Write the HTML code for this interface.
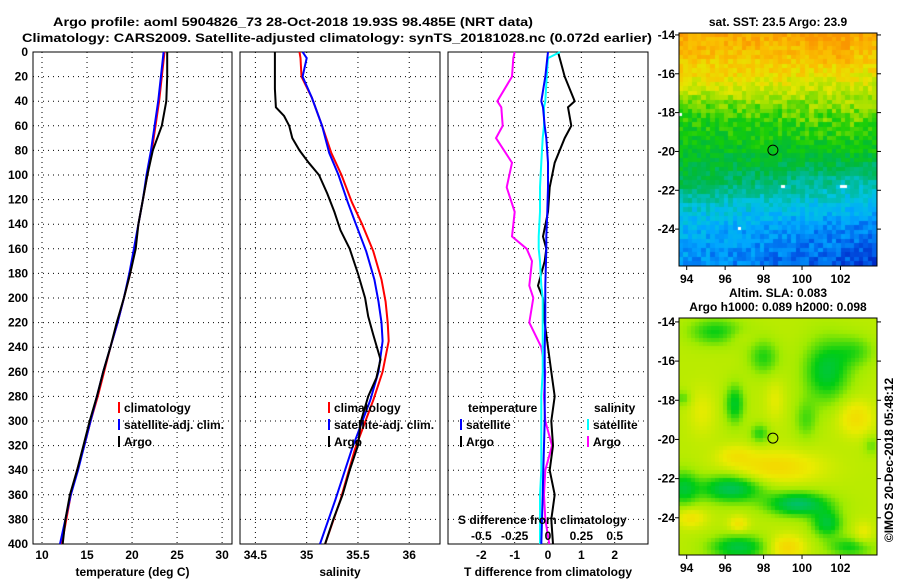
<!DOCTYPE html>
<html><head><meta charset="utf-8"><style>
html,body{margin:0;padding:0;background:#fff;}
#root{position:relative;width:900px;height:580px;overflow:hidden;font-family:"Liberation Sans",sans-serif;}
svg text{font-family:"Liberation Sans",sans-serif;font-size:12px;font-weight:bold;fill:#000;}
canvas{position:absolute;}
</style></head><body>
<div id="root">
<canvas id="sst" width="198" height="233" style="left:679px;top:33px"></canvas>
<canvas id="sla" width="198" height="237" style="left:679px;top:318px"></canvas>
<svg id="svg" width="900" height="580" style="position:absolute;left:0;top:0" xmlns="http://www.w3.org/2000/svg"></svg>
</div>
<script>
// ---------- data ----------
const depthTicks=[0,20,40,60,80,100,120,140,160,180,200,220,240,260,280,300,320,340,360,380,400];
const tempTicks=[10,15,20,25,30];
const salTicks=[34.5,35,35.5,36];
const tdiffTicks=[-2,-1,0,1,2];
const sdiffTicks=[-0.5,-0.25,0,0.25,0.5];
const sdiffTickLabels=["-0.5","-0.25","0","0.25","0.5"];
const latTicks=[-14,-16,-18,-20,-22,-24];
const lonTicks=[94,96,98,100,102];

const tDepth=[0,20,40,60,80,100,120,140,160,180,200,220,240,260,280,300,320,340,360,380,400];
const tClim=[23.6,23.3,23.0,22.6,22.2,21.7,21.2,20.7,20.3,19.8,19.1,18.4,17.6,16.9,16.2,15.4,14.7,13.9,13.2,12.7,12.2];
const tSat=[23.5,23.2,22.9,22.5,22.1,21.6,21.2,20.7,20.2,19.7,19.1,18.4,17.6,16.8,16.1,15.4,14.7,14.0,13.2,12.6,12.0];
const tArgo=[23.9,23.9,23.8,23.3,22.3,21.7,21.2,20.7,20.4,19.8,19.1,18.3,17.6,16.8,16.1,15.3,14.6,13.9,13.1,12.6,12.3];

const sDepth=[0,5,20,37,60,82,100,122,140,162,185,203,220,235,260,283,323,364,400];
const sClim=[34.93,34.94,34.95,35.05,35.15,35.24,35.34,35.44,35.54,35.65,35.73,35.77,35.79,35.8,35.74,35.65,35.47,35.33,35.18];
const sSat=[34.96,35.0,34.96,35.05,35.15,35.22,35.31,35.4,35.48,35.58,35.66,35.7,35.73,35.74,35.7,35.62,35.44,35.28,35.13];
const argoDepth=[0,10,30,45,52,60,70,80,90,100,115,130,145,160,180,200,215,230,250,265,280,300,320,340,360,380,400];
const sArgo=[34.69,34.69,34.69,34.7,34.78,34.83,34.86,34.93,35.02,35.12,35.2,35.27,35.33,35.42,35.5,35.57,35.6,35.65,35.72,35.68,35.6,35.53,35.5,35.42,35.35,35.26,35.18];

const dDepth=[0,5,20,40,45,60,70,90,110,130,150,160,170,190,200,220,240,260,280,300,320,340,360,380,400];
const tdArgo=[0.3,0.35,0.5,0.8,0.6,0.7,0.5,0.2,0.05,0.0,-0.15,-0.05,-0.1,-0.3,-0.15,-0.1,0.0,0.1,0.2,0.1,0.15,0.05,0.2,0.1,0.15];
const tdSat=[0,-0.02,-0.08,-0.2,-0.15,-0.1,-0.05,0.0,0.0,-0.02,-0.05,-0.05,-0.06,-0.08,-0.08,-0.08,-0.1,-0.1,-0.1,-0.1,-0.12,-0.14,-0.16,-0.18,-0.2];
const sdArgo=[-0.25,-0.26,-0.27,-0.38,-0.35,-0.34,-0.39,-0.27,-0.31,-0.25,-0.27,-0.16,-0.12,-0.14,-0.11,-0.14,-0.05,-0.02,-0.03,-0.02,0.03,-0.02,-0.03,-0.02,0.01];
const sdSat=[0.09,0.0,-0.01,-0.02,-0.03,-0.03,-0.04,-0.05,-0.06,-0.06,-0.07,-0.07,-0.06,-0.05,-0.04,-0.04,-0.04,-0.04,-0.05,-0.05,-0.05,-0.05,-0.06,-0.06,-0.06];

const argoLon=[98.485];
const argoLat=[-19.93];

// ---------- helpers ----------
const svg=document.getElementById('svg');
const NS='http://www.w3.org/2000/svg';
function mk(tag,attrs,parent){const e=document.createElementNS(NS,tag);for(const k in attrs)e.setAttribute(k,attrs[k]);(parent||svg).appendChild(e);return e;}
function txt(x,y,s,anchor,extra){const t=mk('text',Object.assign({x:x,y:y,'text-anchor':anchor||'start'},extra||{}));t.textContent=s;return t;}
const TOP=52,BOT=544;
const yD=d=>TOP+(d/400)*(BOT-TOP);

function panel(name,x0,x1,xmin,xmax,ticks,labels,title){
  const g=mk('g',{});
  
  
  const xs=v=>x0+(v-xmin)/(xmax-xmin)*(x1-x0);
  ticks.forEach((v,i)=>{
    const x=xs(v);
    const l=mk('line',{x1:x,x2:x,y1:TOP,y2:BOT,stroke:'#000','stroke-dasharray':'1,4','stroke-width':1},g);
    
    
    const t=txt(x,559,labels?labels[i]:String(v),'middle');
    
    
  });
  depthTicks.forEach(d=>{
    if(d===0||d===400)return;
    const l=mk('line',{x1:x0,x2:x1,y1:yD(d),y2:yD(d),stroke:'#000','stroke-dasharray':'1,4','stroke-width':1},g);
    
    
  });
  const r=mk('rect',{x:x0,y:TOP,width:x1-x0,height:BOT-TOP,fill:'none',stroke:'#000','stroke-width':1},g);
  
  
  const tt=txt((x0+x1)/2,576,title,'middle');
  
  
  return xs;
}
function line(xs,vals,depths,color,name){
  const pts=vals.map((v,i)=>xs(v).toFixed(1)+','+yD(depths[i]).toFixed(1)).join(' ');
  const p=mk('polyline',{points:pts,fill:'none',stroke:color,'stroke-width':2});
  
  
}
function legend(x,y,color,label,name){
  const l=mk('line',{x1:x,x2:x,y1:y-10,y2:y+1,stroke:color,'stroke-width':2});
  
  
  const t=txt(x+5,y,label,'start',{'font-size':'11.5px'});
  
  
}

// titles
let t1=txt(53,26,'Argo profile: aoml 5904826_73 28-Oct-2018 19.93S 98.485E (NRT data)','start',{textLength:480,lengthAdjust:'spacingAndGlyphs','font-size':'13px'});


let t2=txt(22,42,'Climatology: CARS2009. Satellite-adjusted climatology: synTS_20181028.nc (0.072d earlier)','start',{textLength:630,lengthAdjust:'spacingAndGlyphs','font-size':'13px'});



// depth labels
depthTicks.forEach(d=>{
  const t=txt(28,yD(d)+4,String(d),'end');
  
  
});

// panel 1 temperature
const xT=panel('temperature-panel',33,232,9.0,31.1,tempTicks,null,'temperature (deg C)');
line(xT,tClim,tDepth,'#f00','temp-climatology-line');
line(xT,tSat,tDepth,'#00f','temp-satellite-line');
line(xT,tArgo,tDepth,'#000','temp-argo-line');
legend(119,412,'#f00','climatology','legend-climatology');
legend(119,429,'#00f','satellite-adj. clim.','legend-satellite');
legend(119,446,'#000','Argo','legend-argo');

// panel 2 salinity
const xS=panel('salinity-panel',240,440,34.35,36.3,salTicks,null,'salinity');
line(xS,sClim,sDepth,'#f00','sal-climatology-line');
line(xS,sSat,sDepth,'#00f','sal-satellite-line');
line(xS,sArgo,argoDepth,'#000','sal-argo-line');
legend(329,412,'#f00','climatology','legend-climatology');
legend(329,429,'#00f','satellite-adj. clim.','legend-satellite');
legend(329,446,'#000','Argo','legend-argo');

// panel 3 differences
const xTD=panel('difference-panel',448,648,-3,3,tdiffTicks,null,'T difference from climatology');
const xSD=v=>xTD(v*4);
line(xSD,sdArgo,dDepth,'#f0f','sdiff-argo-line');
line(xTD,tdArgo,dDepth,'#000','tdiff-argo-line');
line(xSD,sdSat,dDepth,'#0ff','sdiff-satellite-line');
line(xTD,tdSat,dDepth,'#00f','tdiff-satellite-line');
let lt=txt(468,412,'temperature','start',{'font-size':'11.5px'});
let ls=txt(594,412,'salinity','start',{'font-size':'11.5px'});
legend(461,429,'#00f','satellite','legend-t-satellite');
legend(461,446,'#000','Argo','legend-t-argo');
legend(588,429,'#0ff','satellite','legend-s-satellite');
legend(588,446,'#f0f','Argo','legend-s-argo');
let sdt=txt(458,524,'S difference from climatology','start',{'font-size':'11.5px'});
sdiffTicks.forEach((v,i)=>{const t=txt(xSD(v),540,sdiffTickLabels[i],'middle');});

// ---------- maps ----------
function mapAxes(name,x0,y0,w,h,latTop,latBot,lonL,lonR,titles){
  const g=mk('g',{});
  
  
  const xs=v=>x0+(v-lonL)/(lonR-lonL)*w, ys=v=>y0+(latTop-v)/(latTop-latBot)*h;
  mk('rect',{x:x0,y:y0,width:w,height:h,fill:'none',stroke:'#000'},g);
  latTicks.forEach(v=>{mk('line',{x1:x0-4,x2:x0,y1:ys(v),y2:ys(v),stroke:'#000'},g);mk('line',{x1:x0+w,x2:x0+w+4,y1:ys(v),y2:ys(v),stroke:'#000'},g);
    const t=txt(x0-4,ys(v)+4,String(v),'end');});
  lonTicks.forEach(v=>{mk('line',{x1:xs(v),x2:xs(v),y1:y0+h,y2:y0+h+4,stroke:'#000'},g);
    const t=txt(xs(v),y0+h+17,String(v),'middle');});
  const c=mk('circle',{cx:xs(argoLon[0]),cy:ys(argoLat[0]),r:5,fill:'none',stroke:'#000'},g);
  
  
  titles.forEach((s,i)=>{const t=txt(x0+w/2,y0-7-14*(titles.length-1-i),s,'middle',{'font-size':'11.5px'});});
}
mapAxes('sst-map-axes',679,33,198,233,-13.9,-25.9,93.6,103.9,['sat. SST: 23.5 Argo: 23.9']);
mapAxes('sla-map-axes',679,318,198,237,-13.8,-25.9,93.6,103.9,['Altim. SLA: 0.083','Argo h1000: 0.089 h2000: 0.098']);
let cp=txt(0,0,'©IMOS 20-Dec-2018 05:48:12','middle',{transform:'translate(893,460) rotate(-90)','font-weight':'normal'});


// texture helper (deterministic)
function hash(i,j){let h=Math.sin(i*127.1+j*311.7)*43758.5453;return h-Math.floor(h);}
const pal=[[250,150,0],[250,190,0],[230,230,0],[160,225,0],[20,205,10],[0,185,60],[0,185,140],[0,195,225],[0,165,255],[0,95,235],[0,30,190]];
function palColor(v){v=Math.max(0,Math.min(pal.length-1,v));const i=Math.floor(v),f=v-i,a=pal[i],b=pal[Math.min(i+1,pal.length-1)];return [0,1,2].map(k=>Math.round(a[k]+(b[k]-a[k])*f));}
function interp(xs,ys,x){if(x<=xs[0])return ys[0];for(let k=1;k<xs.length;k++){if(x<=xs[k]){const f=(x-xs[k-1])/(xs[k]-xs[k-1]);return ys[k-1]+f*(ys[k]-ys[k-1]);}}return ys[ys.length-1];}
const sstLatKnots=[14,16,17,18,20,21.5,23,24,25.9];
const sstLeft=[0.5,1.5,2.6,3.9,4.6,5.2,6.8,7.6,8.2];
const sstRight=[0.4,1.8,2.6,3.2,4.4,6.3,7.6,8.6,9.4];
(function(){
  const c=document.getElementById('sst').getContext('2d');
  const cw=198/44,ch=233/52;
  for(let j=0;j<52;j++)for(let i=0;i<44;i++){
    const lat=-13.9-((j+0.5)/52)*12, lon=93.6+((i+0.5)/44)*10.3;
    const fx=(lon-93.6)/10.3;
    let v=(1-fx)*interp(sstLatKnots,sstLeft,-lat)+fx*interp(sstLatKnots,sstRight,-lat);
    if(lat>-15.5&&lon>100.5&&lon<102.5)v-=0.4;
    v+=(hash(i,j)-0.5)*1.2;
    const col=palColor(v);
    c.fillStyle='rgb('+col.join(',')+')';
    c.fillRect(Math.floor(i*cw),Math.floor(j*ch),Math.ceil(cw)+1,Math.ceil(ch)+1);
  }
  c.fillStyle='#fff';c.fillRect(0,80,3,3);c.fillRect(102,152,4,3);c.fillRect(161,152,7,3);c.fillRect(59,194,3,3);
})();
(function(){
  const c=document.getElementById('sla').getContext('2d');
  // [lon, lat, sx, sy, amp]
  const blobs=[
    [95.5,-14.5,1.4,0.7,-0.45],[98,-15.8,0.8,0.9,-0.4],[101.3,-16.5,1.2,1.6,-0.6],[102.8,-15.5,1.0,0.8,-0.3],
    [96.5,-18.2,0.5,1.0,-0.55],[93.8,-17.9,0.4,0.4,-0.3],[97.8,-19.7,0.5,0.5,-0.4],[100.2,-19,0.6,1,-0.3],
    [96.3,-22.5,1.6,0.7,-0.75],[99.8,-23.3,1.6,0.6,-0.8],[101.3,-24.3,0.8,0.7,-0.6],[93.8,-22.5,0.8,0.9,-0.55],
    [96.7,-25.5,1.5,0.6,-0.65],[102.5,-25.5,1.2,0.5,-0.45],[103.6,-20.3,0.4,0.5,-0.25],
    [98.6,-21.4,2.3,0.8,0.45],[96.5,-20.8,0.9,0.5,0.25],[102.8,-18.9,0.9,0.9,0.4],[94.8,-18.6,0.7,1.2,0.2],
    [98.6,-18.0,0.5,1.0,0.2],[94.2,-24.0,0.8,0.5,0.35],[96.7,-24.3,0.5,0.4,0.35],[99.2,-25.5,0.9,0.6,0.5],[103.2,-24.8,0.5,0.6,0.25],[96.8,-14.8,0.8,0.4,0.1]];
  const px=4;
  for(let y=0;y<237;y+=px)for(let x=0;x<198;x+=px){
    const lon=93.6+(x+2)/198*10.3, lat=-13.8-(y+2)/237*12.1;
    let v=0.62;
    blobs.forEach(b=>{const dx=(lon-b[0])/b[2],dy=(lat-b[1])/b[3];v+=b[4]*Math.exp(-(dx*dx+dy*dy));});
    let col;
    if(v<0.15){const f=Math.min(1,(0.15-v)/0.4);col=[0,Math.round(205-15*f),Math.round(20+100*f)];}
    else if(v<0.5){const f=(v-0.15)/0.35;col=[Math.round(160*f),205+Math.round(30*f),Math.round(20*(1-f))];}
    else if(v<0.85){const f=(v-0.5)/0.35;col=[160+Math.round(75*f),235,0];}
    else {const f=Math.min(1,(v-0.85)/0.3);col=[235+Math.round(12*f),235-Math.round(25*f),0];}
    c.fillStyle='rgb('+col.join(',')+')';
    c.fillRect(x,y,px,px);
  }
})();
</script>
</body></html>
